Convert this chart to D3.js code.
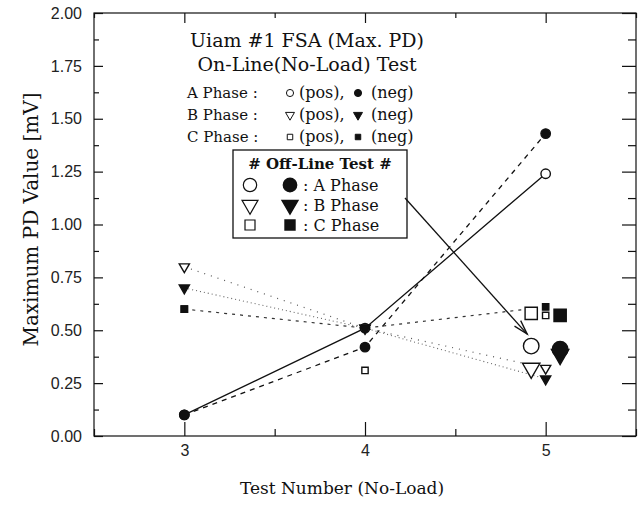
<!DOCTYPE html>
<html>
<head>
<meta charset="utf-8">
<script src="https://cdn.jsdelivr.net/npm/d3@7"></script>
<style>
  body { margin: 0; background: #fff; }
  svg { display: block; }
  .serif { font-family: "DejaVu Serif", "Liberation Serif", serif; fill: #111; }
  .tick text { font-family: "Liberation Sans", Arial, sans-serif; font-size: 16px; fill: #222; }
</style>
</head>
<body>
<svg width="640" height="512"></svg>
<script>
// on-line (no-load) test values
const testNumbers = [3, 4, 5];
const aPos = [0.10, 0.51, 1.24];
const aNeg = [0.10, 0.42, 1.43];
const bPos = [0.80, 0.51, 0.32];
const bNeg = [0.70, 0.51, 0.27];
const cPos = [0.60, 0.31, 0.57];
const cNeg = [0.60, 0.51, 0.61];

// off-line test values, drawn beside test 5
const offX = [4.92, 5.08]; // pos, neg
const offA = [0.425, 0.41];
const offB = [0.32, 0.385];
const offC = [0.58, 0.57];

const xMajor = [3, 4, 5];
const xMinor = [2.5, 3.5, 4.5, 5.5];
const yMajor = [0, 0.25, 0.5, 0.75, 1, 1.25, 1.5, 1.75, 2];
const yMinor = [0.125, 0.375, 0.625, 0.875, 1.125, 1.375, 1.625, 1.875];

const svg = d3.select("svg");
const margin = { left: 94, right: 4, top: 13, bottom: 76 };
const width = +svg.attr("width");
const height = +svg.attr("height");
const innerWidth = width - margin.left - margin.right;
const innerHeight = height - margin.top - margin.bottom;

const g = svg.append("g").attr("transform", `translate(${margin.left},${margin.top})`);

const xScale = d3.scaleLinear().domain([2.5, 5.5]).range([0, innerWidth]);
const yScale = d3.scaleLinear().domain([0, 2]).range([innerHeight, 0]);

// frame
g.append("rect")
  .attr("width", innerWidth)
  .attr("height", innerHeight)
  .attr("fill", "none")
  .attr("stroke", "#111")
  .attr("stroke-width", 1.2);

// axes, ticks pointing inward
const fmt = d3.format(".2f");
g.append("g").attr("transform", `translate(0,${innerHeight})`)
  .call(d3.axisBottom(xScale).tickValues(xMajor).tickSize(-14).tickPadding(9).tickFormat(d3.format("d")));
g.append("g").attr("class", "minor").attr("transform", `translate(0,${innerHeight})`)
  .call(d3.axisBottom(xScale).tickValues(xMinor).tickSize(-7));
g.append("g").attr("class", "minor")
  .call(d3.axisTop(xScale).tickValues(xMajor).tickSize(-10));
g.append("g").attr("class", "minor")
  .call(d3.axisTop(xScale).tickValues(xMinor).tickSize(-5));
g.append("g")
  .call(d3.axisLeft(yScale).tickValues(yMajor).tickSize(-9).tickPadding(12).tickFormat(fmt));
g.append("g").attr("class", "minor")
  .call(d3.axisLeft(yScale).tickValues(yMinor).tickSize(-5));
g.append("g").attr("class", "minor").attr("transform", `translate(${innerWidth},0)`)
  .call(d3.axisRight(yScale).tickValues(yMajor).tickSize(-14));
g.append("g").attr("class", "minor").attr("transform", `translate(${innerWidth},0)`)
  .call(d3.axisRight(yScale).tickValues(yMinor).tickSize(-8));
g.selectAll(".minor text").remove();
g.selectAll(".domain").remove();
g.selectAll(".tick line").attr("stroke", "#111").attr("stroke-width", 1.2);

// axis titles
svg.append("text")
  .attr("class", "serif")
  .attr("transform", "rotate(-90)")
  .attr("x", -(margin.top + innerHeight / 2) + 5)
  .attr("y", 38)
  .attr("text-anchor", "middle")
  .style("font-size", "20px")
  .text("Maximum PD Value [mV]");

svg.append("text")
  .attr("class", "serif")
  .attr("x", 342)
  .attr("y", 494)
  .attr("text-anchor", "middle")
  .style("font-size", "17px")
  .text("Test Number (No-Load)");

// series
const series = [
  { vals: aPos, shape: "circle", filled: false, dash: null, color: "#111", w: 1.3 },
  { vals: aNeg, shape: "circle", filled: true, dash: "5,5", color: "#111", w: 1.3 },
  { vals: bPos, shape: "triangle", filled: false, dash: "1,6", color: "#555", w: 1.2 },
  { vals: bNeg, shape: "triangle", filled: true, dash: "1,3", color: "#666", w: 1.1 },
  { vals: cPos, shape: "square", filled: false, dash: "none", color: "#111", w: 1 },
  { vals: cNeg, shape: "square", filled: true, dash: "3,5", color: "#333", w: 1.2 }
];

const symbolType = { circle: d3.symbolCircle, triangle: d3.symbolTriangle, square: d3.symbolSquare };

function marker(sel, shape, filled, size) {
  sel.attr("d", d3.symbol().type(symbolType[shape]).size(size))
    .attr("fill", filled ? "#111" : "#fff")
    .attr("stroke", "#111")
    .attr("stroke-width", 1.4);
}

const line = d3.line().x((d, i) => xScale(testNumbers[i])).y(d => yScale(d));

series.forEach(s => {
  if (s.dash === "none") return;
  g.append("path")
    .attr("d", line(s.vals))
    .attr("fill", "none")
    .attr("stroke", s.color)
    .attr("stroke-width", s.w)
    .attr("stroke-dasharray", s.dash);
});

const onSize = { circle: 70, triangle: 45, square: 40 };
series.forEach(s => {
  g.selectAll(null)
    .data(s.vals)
    .enter()
    .append("path")
    .attr("transform", (d, i) => `translate(${xScale(testNumbers[i])},${yScale(d)})` + (s.shape === "triangle" ? " rotate(180)" : ""))
    .call(marker, s.shape, s.filled, onSize[s.shape]);
});

// off-line points
const offSets = [
  { vals: offC, shape: "square" },
  { vals: offB, shape: "triangle" },
  { vals: offA, shape: "circle" }
];
const offSize = { circle: 190, triangle: 130, square: 150 };
offSets.forEach(s => {
  g.selectAll(null)
    .data(s.vals)
    .enter()
    .append("path")
    .attr("transform", (d, i) => `translate(${xScale(offX[i])},${yScale(d)})` + (s.shape === "triangle" ? " rotate(180)" : ""))
    .call(marker, s.shape, false, offSize[s.shape])
    .attr("fill", (d, i) => (i === 1 ? "#111" : "#fff"));
});

// top legend text
const legG = svg.append("g");
legG.append("text").attr("class", "serif").attr("x", 307).attr("y", 47)
  .attr("text-anchor", "middle").style("font-size", "19px").text("Uiam #1 FSA (Max. PD)");
legG.append("text").attr("class", "serif").attr("x", 307).attr("y", 71)
  .attr("text-anchor", "middle").style("font-size", "19px").text("On-Line(No-Load) Test");

const legRows = [
  { label: "A Phase :", shape: "circle" },
  { label: "B Phase :", shape: "triangle" },
  { label: "C Phase :", shape: "square" }
];
const legSize = { circle: 40, triangle: 35, square: 30 };
legRows.forEach((r, i) => {
  const yy = 93 + i * 22;
  legG.append("text").attr("class", "serif").attr("x", 187).attr("y", yy + 5)
    .style("font-size", "15px").text(r.label);
  legG.append("path")
    .attr("transform", `translate(290,${yy})` + (r.shape === "triangle" ? " rotate(180)" : ""))
    .call(marker, r.shape, false, legSize[r.shape]).attr("stroke-width", 1);
  legG.append("text").attr("class", "serif").attr("x", 299).attr("y", yy + 5)
    .style("font-size", "16px").text("(pos),");
  legG.append("path")
    .attr("transform", `translate(358,${yy})` + (r.shape === "triangle" ? " rotate(180)" : ""))
    .call(marker, r.shape, true, legSize[r.shape]).attr("stroke-width", 1);
  legG.append("text").attr("class", "serif").attr("x", 371).attr("y", yy + 5)
    .style("font-size", "16px").text("(neg)");
});

// off-line legend box
const box = { x: 233, y: 150, w: 174, h: 88 };
const boxG = svg.append("g");
boxG.append("rect")
  .attr("x", box.x).attr("y", box.y).attr("width", box.w).attr("height", box.h)
  .attr("fill", "#fff").attr("stroke", "#111").attr("stroke-width", 1.3);
boxG.append("text").attr("class", "serif").attr("x", box.x + box.w / 2).attr("y", box.y + 19)
  .attr("text-anchor", "middle").style("font-size", "15px").style("font-weight", "bold")
  .text("# Off-Line Test #");
const boxRows = [
  { label: ": A Phase", shape: "circle" },
  { label: ": B Phase", shape: "triangle" },
  { label: ": C Phase", shape: "square" }
];
const boxSize = { circle: 140, triangle: 110, square: 100 };
boxRows.forEach((r, i) => {
  const yy = box.y + 35 + i * 20;
  boxG.append("path")
    .attr("transform", `translate(${box.x + 17},${yy})` + (r.shape === "triangle" ? " rotate(180)" : ""))
    .call(marker, r.shape, false, boxSize[r.shape]).attr("stroke-width", 1.2);
  boxG.append("path")
    .attr("transform", `translate(${box.x + 57},${yy})` + (r.shape === "triangle" ? " rotate(180)" : ""))
    .call(marker, r.shape, true, boxSize[r.shape]);
  boxG.append("text").attr("class", "serif").attr("x", box.x + 70).attr("y", yy + 6)
    .style("font-size", "16px").text(r.label);
});

// arrow from the box to the off-line A phase point
const ax0 = box.x + box.w - 2, ay0 = box.y + 48;
const ax1 = margin.left + xScale(offX[0]) - 4, ay1 = margin.top + yScale(offA[0]) - 12;
const ang = Math.atan2(ay1 - ay0, ax1 - ax0);
const head = 15, spread = 0.28;
svg.append("line")
  .attr("x1", ax0).attr("y1", ay0).attr("x2", ax1).attr("y2", ay1)
  .attr("stroke", "#111").attr("stroke-width", 1.3);
svg.append("path")
  .attr("d", d3.line()([
    [ax1 - head * Math.cos(ang - spread), ay1 - head * Math.sin(ang - spread)],
    [ax1, ay1],
    [ax1 - head * Math.cos(ang + spread), ay1 - head * Math.sin(ang + spread)]
  ]))
  .attr("fill", "none").attr("stroke", "#111").attr("stroke-width", 1.3);
</script>
</body>
</html>
